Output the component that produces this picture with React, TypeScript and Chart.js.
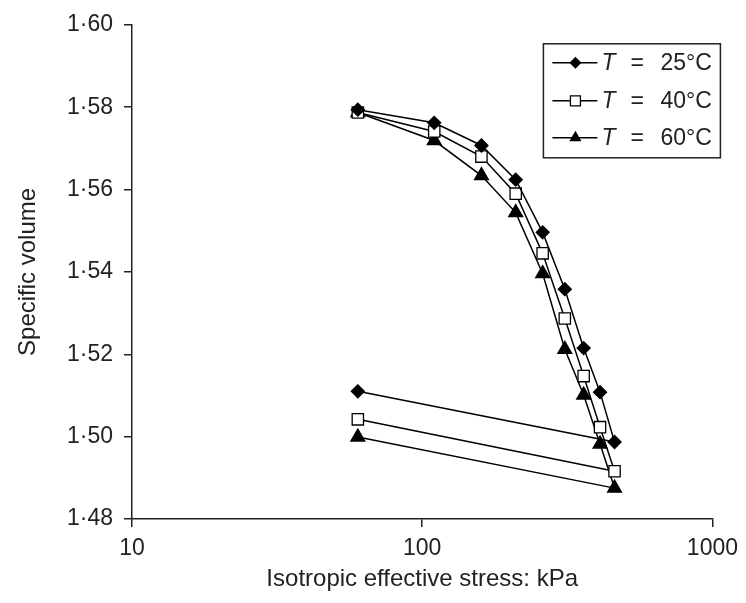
import React, { useEffect, useRef } from "react";
import { Chart, registerables } from "chart.js";

Chart.register(...registerables);

const stress25 = [60, 110, 160, 210, 260, 310, 360, 410, 460, 60];
const volume25 = [1.5794, 1.5762, 1.5707, 1.5624, 1.5496, 1.5358, 1.5215, 1.5108, 1.4987, 1.511];
const stress40 = [60, 110, 160, 210, 260, 310, 360, 410, 460, 60];
const volume40 = [1.5787, 1.5741, 1.568, 1.559, 1.5445, 1.5287, 1.5147, 1.5023, 1.4916, 1.5042];
const stress60 = [60, 110, 160, 210, 260, 310, 360, 410, 460, 60];
const volume60 = [1.5787, 1.5719, 1.5634, 1.5544, 1.5396, 1.5212, 1.5101, 1.4982, 1.4875, 1.4999];
const seriesLabels = ["25°C", "40°C", "60°C"];
const xTicks = [10, 100, 1000];
const yMin = 1.48;
const yMax = 1.6;
const yStep = 0.02;

const FONT = "'Liberation Sans', Arial, sans-serif";
const TEXT = "#222";

function toPoints(xs: number[], ys: number[]) {
  return xs.map((x, i) => ({ x, y: ys[i] }));
}

function drawMarker(ctx: CanvasRenderingContext2D, kind: string, x: number, y: number) {
  ctx.save();
  ctx.lineWidth = 1.3;
  ctx.strokeStyle = "#000";
  ctx.beginPath();
  if (kind === "rectRot") {
    const r = 6;
    ctx.moveTo(x - r, y);
    ctx.lineTo(x, y - r);
    ctx.lineTo(x + r, y);
    ctx.lineTo(x, y + r);
    ctx.closePath();
    ctx.fillStyle = "#000";
    ctx.fill();
  } else if (kind === "rect") {
    const s = 5;
    ctx.rect(x - s, y - s, 2 * s, 2 * s);
    ctx.fillStyle = "#fff";
    ctx.fill();
    ctx.stroke();
  } else {
    const r = 7;
    ctx.moveTo(x, y - r);
    ctx.lineTo(x + r * 0.866, y + r * 0.5);
    ctx.lineTo(x - r * 0.866, y + r * 0.5);
    ctx.closePath();
    ctx.fillStyle = "#000";
    ctx.fill();
  }
  ctx.restore();
}

const legendPlugin = {
  id: "customLegend",
  afterDraw(chart: any) {
    const { ctx, chartArea } = chart;
    const right = chartArea.right + 8;
    const top = chartArea.top + 19;
    const w = 177;
    const h = 114;
    const left = right - w;
    ctx.save();
    ctx.fillStyle = "#fff";
    ctx.fillRect(left, top, w, h);
    ctx.strokeStyle = "#222";
    ctx.lineWidth = 1.5;
    ctx.strokeRect(left, top, w, h);
    const kinds = ["rectRot", "rect", "triangle"];
    const rows = [19, 57, 94];
    kinds.forEach((k, i) => {
      const cy = top + rows[i];
      ctx.strokeStyle = "#000";
      ctx.lineWidth = 1.5;
      ctx.beginPath();
      ctx.moveTo(left + 9, cy);
      ctx.lineTo(left + 54, cy);
      ctx.stroke();
      drawMarker(ctx, k, left + 32, cy);
      ctx.fillStyle = TEXT;
      ctx.textBaseline = "middle";
      ctx.textAlign = "left";
      ctx.font = `italic 23px ${FONT}`;
      ctx.fillText("T", left + 58, cy + 1);
      ctx.font = `23px ${FONT}`;
      ctx.fillText("=", left + 87, cy + 1);
      ctx.fillText(seriesLabels[i], left + 117, cy + 1);
    });
    ctx.restore();
  },
};

export default function App() {
  const ref = useRef<HTMLCanvasElement | null>(null);
  useEffect(() => {
    if (!ref.current) return;
    const common = {
      showLine: true,
      borderColor: "#000",
      borderWidth: 1.5,
      pointBorderColor: "#000",
      pointBorderWidth: 1.3,
    };
    const chart = new Chart(ref.current, {
      type: "scatter",
      data: {
        datasets: [
          {
            ...common,
            label: "T = " + seriesLabels[0],
            data: toPoints(stress25, volume25),
            pointStyle: "rectRot",
            pointRadius: 6.5,
            pointBackgroundColor: "#000",
          },
          {
            ...common,
            label: "T = " + seriesLabels[1],
            data: toPoints(stress40, volume40),
            pointStyle: "rect",
            pointRadius: 8,
            pointBackgroundColor: "#fff",
          },
          {
            ...common,
            label: "T = " + seriesLabels[2],
            data: toPoints(stress60, volume60),
            pointStyle: "triangle",
            pointRadius: 8,
            pointBackgroundColor: "#000",
          },
        ],
      } as any,
      options: {
        animation: false,
        responsive: false,
        layout: { padding: { top: 24, right: 32, left: 0, bottom: 0 } },
        plugins: { legend: { display: false }, tooltip: { enabled: false } },
        scales: {
          x: {
            type: "logarithmic",
            min: 10,
            max: 1000,
            afterBuildTicks: (scale: any) => {
              scale.ticks = xTicks.map((v) => ({ value: v }));
            },
            afterFit: (scale: any) => {
              scale.height = 84;
            },
            ticks: {
              color: TEXT,
              font: { family: FONT, size: 23 },
              padding: 8,
              maxRotation: 0,
              callback: (v: any) => String(v),
            },
            grid: { drawOnChartArea: false, drawTicks: true, tickLength: 8, color: "#222", lineWidth: 1.5 },
            border: { display: true, color: "#222", width: 1.5 },
            title: {
              display: true,
              text: "Isotropic effective stress: kPa",
              color: TEXT,
              font: { family: FONT, size: 24 },
              padding: { top: 0, bottom: 9 },
            },
          },
          y: {
            min: yMin,
            max: yMax,
            afterFit: (scale: any) => {
              scale.width = 132;
            },
            ticks: {
              stepSize: yStep,
              color: TEXT,
              font: { family: FONT, size: 23 },
              padding: 11,
              callback: (v: any) => Number(v).toFixed(2).replace(".", "·"),
            },
            grid: { drawOnChartArea: false, drawTicks: true, tickLength: 8, color: "#222", lineWidth: 1.5 },
            border: { display: true, color: "#222", width: 1.5 },
            title: {
              display: true,
              text: "Specific volume",
              color: TEXT,
              font: { family: FONT, size: 24 },
              padding: { top: 14, bottom: 0 },
            },
          },
        },
      },
      plugins: [legendPlugin],
    });
    return () => chart.destroy();
  }, []);
  return (
    <div style={{ position: "fixed", left: 0, top: 0, width: 746, height: 603, background: "#fff" }}>
      <canvas ref={ref} width={746} height={603} />
    </div>
  );
}
